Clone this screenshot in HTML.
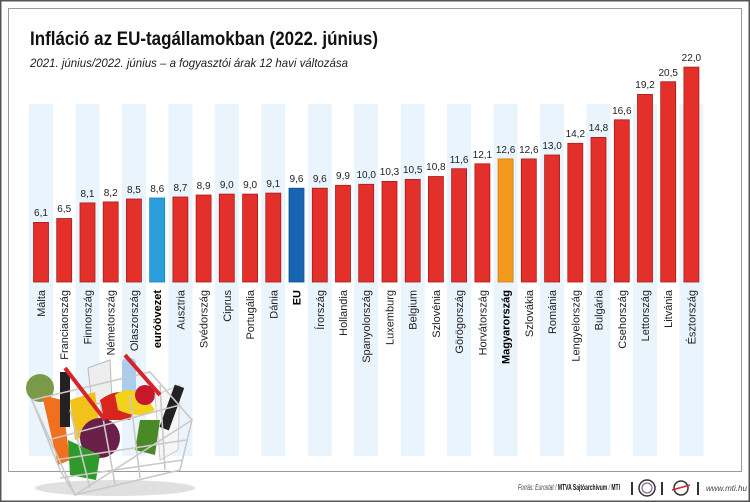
<!DOCTYPE html>
<html><head><meta charset="utf-8"><style>
html,body{margin:0;padding:0;background:#fff}
svg{display:block}
text{font-family:"Liberation Sans",Arial,sans-serif}
.v{font-size:10px;fill:#222;text-anchor:middle}
.c{font-size:11px;fill:#222;text-anchor:end}
.b{font-weight:bold;fill:#000}
</style></head><body>
<svg width="750" height="502" viewBox="0 0 750 502" xmlns="http://www.w3.org/2000/svg">
<rect x="0" y="0" width="750" height="502" fill="#fff"/>
<rect x="0.75" y="0.75" width="748.5" height="500.5" fill="none" stroke="#555" stroke-width="1.5"/>
<rect x="8.5" y="8.5" width="733" height="463" fill="#fff" stroke="#9a9a9a" stroke-width="1"/>
<g fill="#eaf4fd">
<rect x="29" y="104" width="24" height="352"/><rect x="75.5" y="104" width="24" height="352"/>
<rect x="121.9" y="104" width="24" height="352"/><rect x="168.4" y="104" width="24" height="352"/>
<rect x="214.8" y="104" width="24" height="352"/><rect x="261.3" y="104" width="24" height="352"/>
<rect x="307.8" y="104" width="24" height="352"/><rect x="354.2" y="104" width="24" height="352"/>
<rect x="400.7" y="104" width="24" height="352"/><rect x="447.1" y="104" width="24" height="352"/>
<rect x="493.6" y="104" width="24" height="352"/><rect x="540.1" y="104" width="24" height="352"/>
<rect x="586.5" y="104" width="24" height="352"/><rect x="633" y="104" width="24" height="352"/>
<rect x="679.4" y="104" width="24" height="352"/>
</g>
<text x="30" y="45" font-size="19" font-weight="bold" fill="#111" textLength="348" lengthAdjust="spacingAndGlyphs">Infláció az EU-tagállamokban (2022. június)</text>
<text x="30" y="67" font-size="12" font-style="italic" fill="#222" textLength="318" lengthAdjust="spacingAndGlyphs">2021. június/2022. június – a fogyasztói árak 12 havi változása</text>
<g fill="#e3302b" stroke="#a81d1a" stroke-width="0.8">
<rect x="33.5" y="222.4" width="15" height="59.6"/>
<rect x="56.7" y="218.5" width="15" height="63.5"/>
<rect x="80" y="202.9" width="15" height="79.1"/>
<rect x="103.2" y="201.9" width="15" height="80.1"/>
<rect x="126.4" y="199" width="15" height="83"/>
<rect x="149.7" y="198" width="15" height="84" fill="#2b9fdb" stroke="#1b7fb8"/>
<rect x="172.9" y="197" width="15" height="85"/>
<rect x="196.1" y="195" width="15" height="87"/>
<rect x="219.3" y="194.1" width="15" height="87.9"/>
<rect x="242.6" y="194.1" width="15" height="87.9"/>
<rect x="265.8" y="193.1" width="15" height="88.9"/>
<rect x="289" y="188.2" width="15" height="93.8" fill="#1765b2" stroke="#0f4f90"/>
<rect x="312.3" y="188.2" width="15" height="93.8"/>
<rect x="335.5" y="185.3" width="15" height="96.7"/>
<rect x="358.7" y="184.3" width="15" height="97.7"/>
<rect x="382" y="181.4" width="15" height="100.6"/>
<rect x="405.2" y="179.4" width="15" height="102.6"/>
<rect x="428.4" y="176.5" width="15" height="105.5"/>
<rect x="451.6" y="168.7" width="15" height="113.3"/>
<rect x="474.9" y="163.8" width="15" height="118.2"/>
<rect x="498.1" y="158.9" width="15" height="123.1" fill="#f39a1e" stroke="#d07e10"/>
<rect x="521.3" y="158.9" width="15" height="123.1"/>
<rect x="544.6" y="155" width="15" height="127"/>
<rect x="567.8" y="143.3" width="15" height="138.7"/>
<rect x="591" y="137.4" width="15" height="144.6"/>
<rect x="614.3" y="119.8" width="15" height="162.2"/>
<rect x="637.5" y="94.4" width="15" height="187.6"/>
<rect x="660.7" y="81.7" width="15" height="200.3"/>
<rect x="683.9" y="67.1" width="15" height="214.9"/>
</g>
<g class="v">
<text class="v" x="41" y="216">6,1</text><text class="v" x="64.2" y="212">6,5</text>
<text class="v" x="87.5" y="197">8,1</text><text class="v" x="110.7" y="196">8,2</text>
<text class="v" x="133.9" y="193">8,5</text><text class="v" x="157.2" y="192">8,6</text>
<text class="v" x="180.4" y="191">8,7</text><text class="v" x="203.6" y="189">8,9</text>
<text class="v" x="226.8" y="188">9,0</text><text class="v" x="250.1" y="188">9,0</text>
<text class="v" x="273.3" y="187">9,1</text><text class="v" x="296.5" y="182">9,6</text>
<text class="v" x="319.8" y="182">9,6</text><text class="v" x="343" y="179">9,9</text>
<text class="v" x="366.2" y="178">10,0</text><text class="v" x="389.5" y="175">10,3</text>
<text class="v" x="412.7" y="173">10,5</text><text class="v" x="435.9" y="170">10,8</text>
<text class="v" x="459.1" y="163">11,6</text><text class="v" x="482.4" y="158">12,1</text>
<text class="v" x="505.6" y="153">12,6</text><text class="v" x="528.8" y="153">12,6</text>
<text class="v" x="552.1" y="149">13,0</text><text class="v" x="575.3" y="137">14,2</text>
<text class="v" x="598.5" y="131">14,8</text><text class="v" x="621.8" y="114">16,6</text>
<text class="v" x="645" y="88">19,2</text><text class="v" x="668.2" y="76">20,5</text>
<text class="v" x="691.4" y="61">22,0</text>
</g>
<g>
<text class="c" transform="translate(45,290) rotate(-90)">Málta</text>
<text class="c" transform="translate(68.2,290) rotate(-90)">Franciaország</text>
<text class="c" transform="translate(91.5,290) rotate(-90)">Finnország</text>
<text class="c" transform="translate(114.7,290) rotate(-90)">Németország</text>
<text class="c" transform="translate(137.9,290) rotate(-90)">Olaszország</text>
<text class="c b" transform="translate(161.2,290) rotate(-90)">euróövezet</text>
<text class="c" transform="translate(184.4,290) rotate(-90)">Ausztria</text>
<text class="c" transform="translate(207.6,290) rotate(-90)">Svédország</text>
<text class="c" transform="translate(230.8,290) rotate(-90)">Ciprus</text>
<text class="c" transform="translate(254.1,290) rotate(-90)">Portugália</text>
<text class="c" transform="translate(277.3,290) rotate(-90)">Dánia</text>
<text class="c b" transform="translate(300.5,290) rotate(-90)">EU</text>
<text class="c" transform="translate(323.8,290) rotate(-90)">Írország</text>
<text class="c" transform="translate(347,290) rotate(-90)">Hollandia</text>
<text class="c" transform="translate(370.2,290) rotate(-90)">Spanyolország</text>
<text class="c" transform="translate(393.5,290) rotate(-90)">Luxemburg</text>
<text class="c" transform="translate(416.7,290) rotate(-90)">Belgium</text>
<text class="c" transform="translate(439.9,290) rotate(-90)">Szlovénia</text>
<text class="c" transform="translate(463.1,290) rotate(-90)">Görögország</text>
<text class="c" transform="translate(486.4,290) rotate(-90)">Horvátország</text>
<text class="c b" transform="translate(509.6,290) rotate(-90)">Magyarország</text>
<text class="c" transform="translate(532.8,290) rotate(-90)">Szlovákia</text>
<text class="c" transform="translate(556.1,290) rotate(-90)">Románia</text>
<text class="c" transform="translate(579.3,290) rotate(-90)">Lengyelország</text>
<text class="c" transform="translate(602.5,290) rotate(-90)">Bulgária</text>
<text class="c" transform="translate(625.8,290) rotate(-90)">Csehország</text>
<text class="c" transform="translate(649,290) rotate(-90)">Lettország</text>
<text class="c" transform="translate(672.2,290) rotate(-90)">Litvánia</text>
<text class="c" transform="translate(695.4,290) rotate(-90)">Észtország</text>
</g>
<!-- basket -->
<g>
<ellipse cx="115" cy="488" rx="80" ry="8" fill="#ccc" opacity="0.6"/>
<path d="M88 368 L110 360 L112 400 L92 405Z" fill="#eee" stroke="#bbb"/>
<rect x="122" y="358" width="14" height="40" rx="5" fill="#a9cdeb"/>
<circle cx="40" cy="388" r="14" fill="#7a9a4a"/>
<path d="M42 395 L62 400 L70 460 L58 465Z" fill="#f0701e"/>
<rect x="60" y="372" width="10" height="55" fill="#222"/>
<path d="M70 400 L95 392 L100 430 L75 440Z" fill="#f2c21a"/>
<path d="M100 400 Q120 385 138 398 L130 420 L102 420Z" fill="#d8261e"/>
<path d="M115 395 Q135 380 155 410 Q140 420 118 410Z" fill="#f4d21c"/>
<circle cx="145" cy="395" r="10" fill="#c8162b"/>
<circle cx="100" cy="438" r="20" fill="#6a1f48"/>
<path d="M68 440 L100 455 L96 480 L70 475Z" fill="#2f9a2a"/>
<path d="M155 395 L180 385 L178 450 L160 460Z" fill="#f6f6f6" stroke="#ccc"/>
<rect x="167" y="385" width="10" height="45" transform="rotate(20 172 407)" fill="#222"/>
<path d="M140 420 L160 420 L155 455 L135 450Z" fill="#4a8a26"/>
<g fill="none" stroke="#c9c9c9" stroke-width="1.6">
<path d="M32 400 L150 372 L192 420 L75 495Z"/>
<path d="M32 400 L60 470 L75 495"/>
<path d="M192 420 L180 470 L75 495"/>
<path d="M48 440 L180 405 M55 460 L186 440 M60 478 L183 460"/>
<path d="M70 410 L90 488 M100 402 L115 484 M130 395 L140 478 M160 385 L165 470"/>
</g>
<path d="M65 368 L105 420 M125 355 L160 395" stroke="#d4262a" stroke-width="4"/>
</g>
<text x="518" y="490" font-size="8.5" font-style="italic" fill="#444" textLength="102" lengthAdjust="spacingAndGlyphs">Forrás: Eurostat / <tspan font-weight="bold" font-style="normal" fill="#111">MTVA Sajtóarchívum</tspan> / <tspan font-weight="bold" font-style="normal" fill="#111">MTI</tspan></text>
<rect x="631" y="482" width="2" height="13" fill="#333"/>
<circle cx="647" cy="488" r="8" fill="none" stroke="#333" stroke-width="1.5"/>
<circle cx="647" cy="488" r="5" fill="none" stroke="#7a4a8a" stroke-width="1"/>
<rect x="661" y="482" width="2" height="13" fill="#333"/>
<circle cx="681" cy="488" r="7" fill="none" stroke="#333" stroke-width="1.5"/>
<path d="M672 490 L690 485" stroke="#d4262a" stroke-width="1.5"/>
<rect x="697" y="482" width="2" height="13" fill="#333"/>
<text x="706" y="491" font-size="8" font-style="italic" fill="#444">www.mti.hu</text>
</svg>
</body></html>
